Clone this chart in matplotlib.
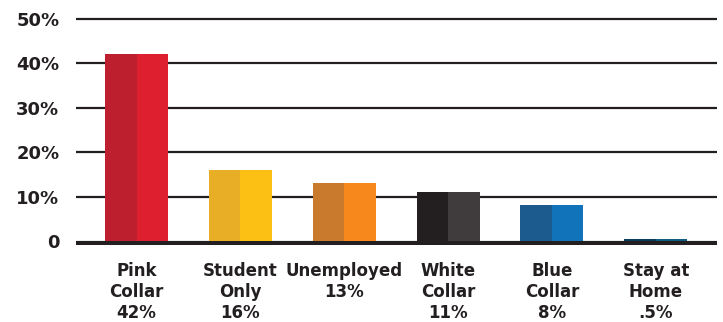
import matplotlib
matplotlib.use("Agg")
from matplotlib import pyplot as plt
import numpy as np

# employment status breakdown
categories = ["Pink\nCollar", "Student\nOnly", "Unemployed", "White\nCollar",
              "Blue\nCollar", "Stay at\nHome"]
shares = [42, 16, 13, 11, 8, 0.5]
dark_colors = ["#bd1f2f", "#e8ae25", "#c97a2c", "#231f20", "#1b5b8e", "#0d3b5e"]
light_colors = ["#de1f30", "#fcc015", "#f7891c", "#403b3c", "#1174bb", "#105d80"]
y_ticks = [0, 10, 20, 30, 40, 50]
y_labels = ["0", "10%", "20%", "30%", "40%", "50%"]

ink = "#231f20"
plt.rcParams['font.family'] = ['DejaVu Sans']


def pct_text(v):
    """42 -> '42%', 0.5 -> '.5%'"""
    s = f"{v:g}"
    if s.startswith("0."):
        s = s[1:]
    return s + "%"


fig = plt.figure(figsize=(7.23, 3.22), dpi=100)
ax = fig.add_axes([76 / 723, 0.238, (717 - 76) / 723, 0.717])

x = np.arange(len(categories))
width = 0.607
half = width / 2

# each bar is split into a darker left half and a lighter right half
ax.bar(x - half / 2, shares, width=half, color=dark_colors, zorder=3)
ax.bar(x + half / 2, shares, width=half, color=light_colors, zorder=3)

for t in y_ticks[1:]:
    ax.axhline(t, color=ink, lw=1.6, zorder=1)
# heavy base line hangs just below zero so thin bars stay visible
ax.axhline(-0.45, color=ink, lw=3.0, zorder=2)

ax.set_xlim(-0.583, 5.59)
ax.set_ylim(-1, 51)

ax.set_yticks(y_ticks)
ax.set_yticklabels(y_labels, fontsize=13, fontweight="bold", color=ink)
ax.tick_params(axis="y", length=0, pad=12)

xlabels = [f"{c}\n{pct_text(v)}" for c, v in zip(categories, shares)]
ax.set_xticks(x)
ax.set_xticklabels(xlabels, fontsize=12, fontweight="bold", color=ink,
                   linespacing=1.2, va="top")
ax.tick_params(axis="x", length=0, pad=12)

for side in ax.spines.values():
    side.set_visible(False)

fig.savefig("out.png", dpi=100, facecolor="white")
